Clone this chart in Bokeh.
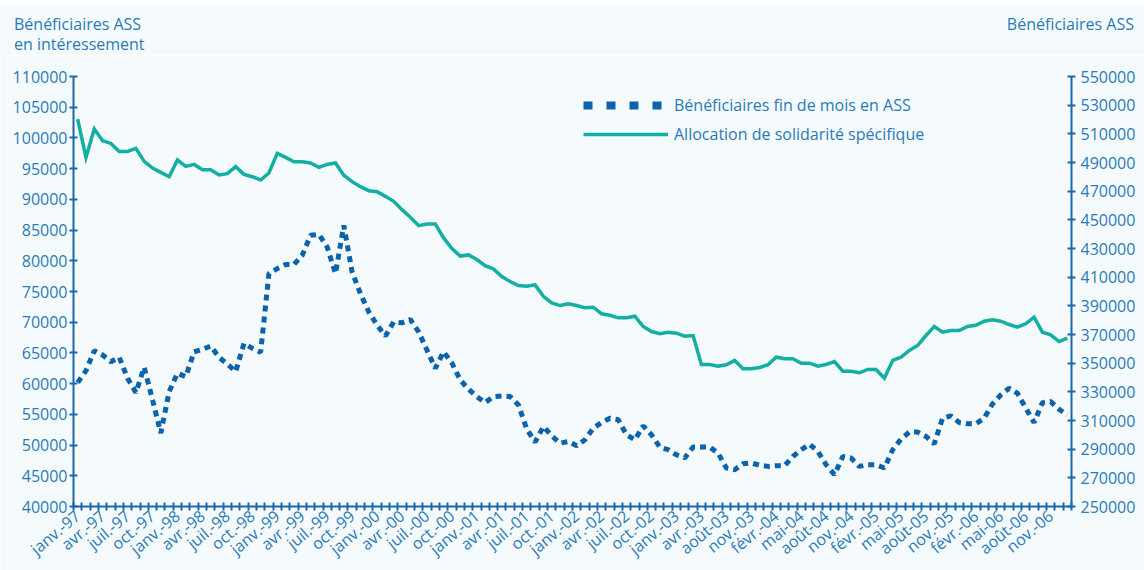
import math
from bokeh.plotting import figure
from bokeh.layouts import column
from bokeh.models import (Range1d, LinearAxis, FixedTicker, BasicTickFormatter,
                          Legend, LegendItem, ColumnDataSource, Div)
from bokeh.embed import file_html
from bokeh.resources import INLINE

# ---- data (monthly, janv. 1997 -> fin 2006; 120 points) ----
month_index = list(range(120))

tick_labels = ["janv.-97", "avr.-97", "juil.-97", "oct.-97",
               "janv.-98", "avr.-98", "juil.-98", "oct.-98",
               "janv.-99", "avr.-99", "juil.-99", "oct.-99",
               "janv.-00", "avr.-00", "juil.-00", "oct.-00",
               "janv.-01", "avr.-01", "juil.-01", "oct.-01",
               "janv.-02", "avr.-02", "juil.-02", "oct.-02",
               "janv.-03", "avr.-03", "août-03", "nov.-03",
               "févr.-04", "mai-04", "août-04", "nov.-04",
               "févr.-05", "mai-05", "août-05", "nov.-05",
               "févr.-06", "mai-06", "août-06", "nov.-06"]
tick_positions = [3 * k for k in range(len(tick_labels))]

# Allocation de solidarité spécifique (right axis)
ass_total = [520300, 493550, 513340, 505190, 503310, 497730, 497730, 499820, 490760, 486160,
             483100, 480100, 491740, 487280, 488670, 484980, 484980, 481290, 482190, 487070,
             481700, 480100, 477800, 482680, 496340, 493550, 490550, 490550, 489650, 486580,
             488670, 489650, 481150, 476620, 473130, 470340, 469650, 466370, 462890, 457100,
             451740, 445950, 447140, 447140, 437380, 429920, 424700, 425530, 422260, 418080,
             415780, 410410, 406930, 404140, 403650, 404630, 396680, 392080, 390200, 391390,
             390200, 388600, 389020, 384420, 383440, 381630, 381630, 382740, 375570, 372080,
             370480, 371590, 370900, 368810, 369290, 349080, 349080, 347900, 348870, 351870,
             346090, 346090, 346990, 348870, 354170, 353060, 353060, 349990, 349990, 347900,
             349080, 351170, 344410, 344410, 343300, 345600, 345600, 339540, 351870, 354170,
             358840, 362320, 369290, 375570, 371590, 372780, 372780, 375570, 376470, 379260,
             380230, 379260, 376960, 375080, 377450, 382050, 371590, 369780, 365110, 367410]

# Bénéficiaires fin de mois en ASS (left axis)
ass_interessement = [60160, 62110, 65360, 64660, 63570, 64290, 60880, 58540, 62660, 57350,
                     51950, 58700, 61690, 61140, 65190, 65580, 66120, 64290, 63200, 61950,
                     66560, 65750, 65100, 77920, 78730, 79380, 79380, 80890, 84140, 84300,
                     82240, 77920, 85760, 78180, 74670, 71690, 69530, 67740, 70060, 69900,
                     70450, 68440, 65470, 62500, 65190, 63360, 60600, 59090, 57890, 56910,
                     57890, 58000, 57890, 56540, 52600, 50490, 53020, 51510, 50320, 50580,
                     49890, 50860, 52760, 53670, 54380, 54110, 51670, 50860, 53130, 51670,
                     49670, 49240, 48420, 47890, 49670, 49670, 49670, 48700, 46260, 45990,
                     46960, 47080, 46720, 46530, 46640, 46640, 48150, 49240, 50160, 48960,
                     46800, 45180, 48150, 47890, 46530, 46800, 46800, 46260, 49240, 50970,
                     52110, 52110, 51400, 50210, 54380, 54760, 53670, 53460, 53460, 54380,
                     56700, 58170, 59250, 58440, 56010, 53670, 56910, 57080, 55840, 54920]

left_ticks = list(range(40000, 110001, 5000))
right_ticks = list(range(250000, 550001, 20000))

title_left = ["Bénéficiaires ASS", "en intéressement"]
title_right = "Bénéficiaires ASS"
legend_labels = ["Bénéficiaires fin de mois en ASS", "Allocation de solidarité spécifique"]

# ---- styles ----
FONT = "Open Sans"
FS = "16px"
TXT = "#2a7ab9"
AXC = "#1b68ac"
BG = "#f5fafc"
TEAL = "#13afa3"
DASHC = "#0b63ae"
W = 1144

# ---- header with the axis titles ----
head_html = (
    '<div style="display:flex;justify-content:space-between;box-sizing:border-box;'
    'width:%dpx;height:50px;margin:0;padding:9px 10px 0 14px;'
    'font-family:\'Open Sans\';font-size:16px;line-height:20px;color:%s;background:%s">'
    '<div><div>%s</div><div>%s</div></div><div>%s</div></div>'
    % (W, TXT, BG, title_left[0], title_left[1], title_right))
head = Div(text=head_html, width=W, height=50, margin=0)

# ---- main chart ----
src = ColumnDataSource(dict(x=month_index, total=ass_total, inter=ass_interessement))

p = figure(width=W, height=515, output_backend="svg", toolbar_location=None,
           x_range=Range1d(-0.5, 119.5), y_range=Range1d(40000, 110000),
           min_border_left=73, min_border_right=73, min_border_top=21, min_border_bottom=64)
p.extra_y_ranges = {"right": Range1d(250000, 550000)}
p.background_fill_color = BG
p.border_fill_color = BG
p.outline_line_color = None
p.xgrid.visible = False
p.ygrid.visible = False

r_dash = p.line("x", "inter", source=src, line_color=DASHC, line_width=5,
                line_dash="6 5")
r_teal = p.line("x", "total", source=src, y_range_name="right",
                line_color=TEAL, line_width=3.5, line_join="miter")

# legend-only sample for the dashed series (bigger squares, as in the key);
# a single point draws no segment in the plot itself
key_src = ColumnDataSource(dict(x=month_index[:1], y=ass_interessement[:1]))
r_dash_key = p.line("x", "y", source=key_src, line_color=DASHC, line_width=8,
                    line_dash="9 14")

# x axis
xa = p.xaxis[0]
xa.ticker = FixedTicker(ticks=tick_positions,
                        minor_ticks=[i - 0.5 for i in range(121)])
xa.major_label_overrides = {t: lab for t, lab in zip(tick_positions, tick_labels)}
xa.major_label_orientation = math.radians(40)
xa.major_tick_in = 0
xa.major_tick_out = 0
xa.minor_tick_in = 4
xa.minor_tick_out = 4
xa.minor_tick_line_color = AXC
xa.minor_tick_line_width = 2
xa.major_label_standoff = 3

# left axis
ya = p.yaxis[0]
ya.ticker = FixedTicker(ticks=left_ticks)
ya.formatter = BasicTickFormatter(use_scientific=False)
ya.major_label_standoff = 2

# right axis
ra = LinearAxis(y_range_name="right", ticker=FixedTicker(ticks=right_ticks),
                formatter=BasicTickFormatter(use_scientific=False))
p.add_layout(ra, "right")
ra.major_label_standoff = 5

for ax in (xa, ya, ra):
    ax.axis_line_color = AXC
    ax.axis_line_width = 2
    ax.major_tick_line_color = AXC
    ax.major_tick_line_width = 2
    ax.major_label_text_color = TXT
    ax.major_label_text_font = FONT
    ax.major_label_text_font_size = FS
for ax in (ya, ra):
    ax.major_tick_in = 4
    ax.major_tick_out = 4
    ax.minor_tick_line_color = None

# legend
legend = Legend(items=[LegendItem(label=legend_labels[0], renderers=[r_dash_key]),
                       LegendItem(label=legend_labels[1], renderers=[r_teal])],
                location=(510, 361), glyph_width=85, glyph_height=20, label_height=20,
                spacing=7, padding=0, margin=0, label_standoff=6,
                label_text_font=FONT, label_text_font_size=FS, label_text_color=TXT,
                background_fill_alpha=0, border_line_color=None)
p.add_layout(legend)

page = column(head, p, spacing=0, margin=(5, 0, 0, 0))

open("out.html", "w").write(file_html(page, INLINE))
